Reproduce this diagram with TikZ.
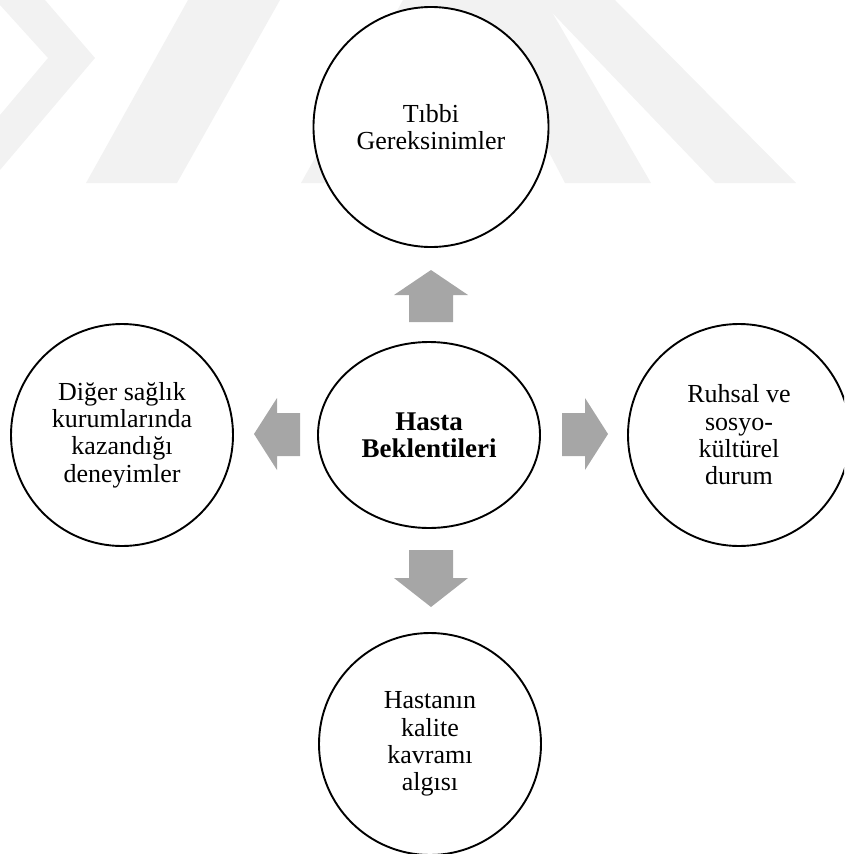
\documentclass[tikz,border=0pt]{standalone}
\usepackage{fontspec}
\setmainfont{Liberation Serif}
\usetikzlibrary{shapes.geometric}
\begin{document}
\begin{tikzpicture}[x=1pt,y=-1pt,
  wm/.style={fill=black!5,draw=none},
  bubble/.style={ellipse,draw=black,line width=1.9pt,fill=white,inner sep=0pt,
    align=center,font=\fontsize{26}{27.3}\selectfont},
  roundb/.style={bubble,minimum width=222pt,minimum height=222pt},
  barrow/.style={fill=black!35,draw=none}]
\useasboundingbox (0,0) rectangle (844,854);
\clip (0,0) rectangle (844,854);
% faint watermark
\fill[wm] (0,0) -- (45,0) -- (95,58) -- (0,170) -- (0,115) -- (48,58) -- (0,5) -- cycle;
\fill[wm] (86,183) -- (177,183) -- (280,0) -- (188,0) -- cycle;
\fill[wm] (301,183) -- (409,183) -- (511,0) -- (403,0) -- cycle;
\fill[wm] (565,183) -- (651,183) -- (545,0) -- (470,0) -- cycle;
\fill[wm] (715,183) -- (796,183) -- (615,0) -- (540,0) -- cycle;
% circles
\node[bubble,minimum width=235pt,minimum height=240pt] (tibbi) at (431,127) {Tıbbi\\Gereksinimler};
\node[bubble,minimum width=222pt,minimum height=186pt,font=\fontsize{27}{27.3}\selectfont\bfseries] (hasta) at (429,435) {Hasta\\Beklentileri};
\node[roundb] (diger) at (122,435) {Diğer sağlık\\kurumlarında\\kazandığı\\deneyimler};
\node[roundb] (ruhsal) at (739,435) {Ruhsal ve\\sosyo-\\kültürel\\durum};
\node[roundb] (algi) at (430,744) {Hastanın\\kalite\\kavramı\\algısı};
% block arrows
\fill[barrow] (409,322) -- (409,295) -- (394,295) -- (431,270) -- (468,295) -- (453,295) -- (453,322) -- cycle;
\fill[barrow] (409,550) -- (409,578) -- (394,578) -- (431,607) -- (468,578) -- (453,578) -- (453,550) -- cycle;
\fill[barrow] (300,413) -- (277,413) -- (277,398) -- (254,434) -- (277,470) -- (277,456) -- (300,456) -- cycle;
\fill[barrow] (562,413) -- (585,413) -- (585,398) -- (608,434) -- (585,470) -- (585,456) -- (562,456) -- cycle;
\end{tikzpicture}
\end{document}
